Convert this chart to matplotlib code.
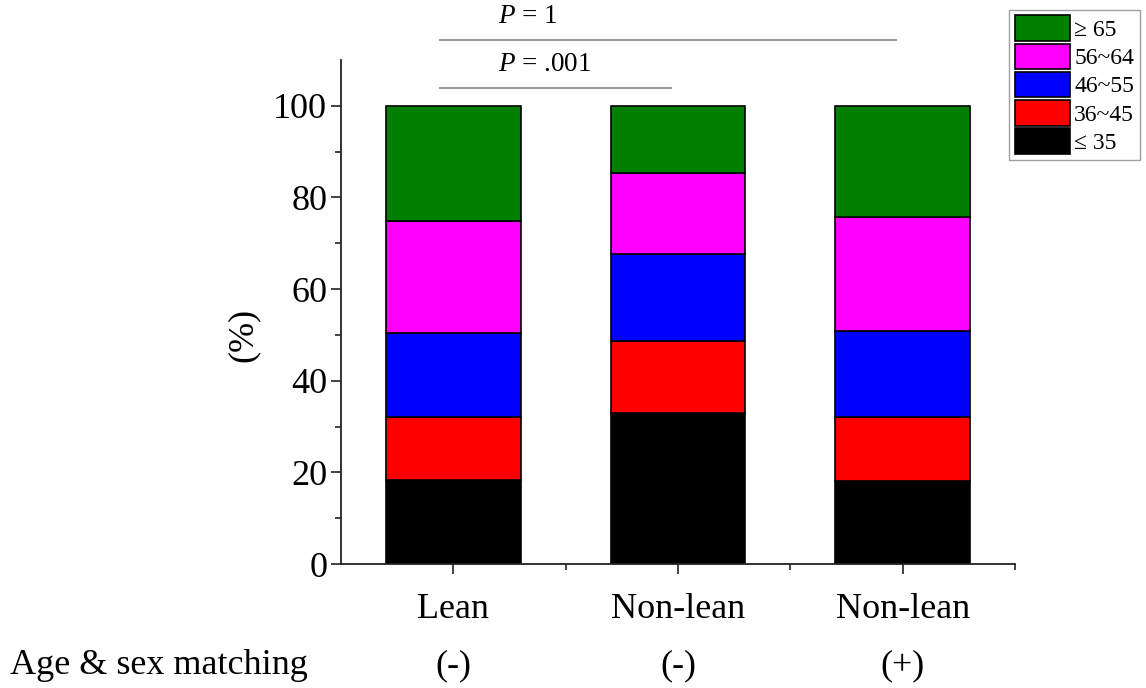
import matplotlib
matplotlib.use('Agg')
import matplotlib.pyplot as plt
import numpy as np

plt.rcParams['font.family'] = ['Liberation Serif', 'DejaVu Serif']
plt.rcParams['mathtext.fontset'] = 'custom'
plt.rcParams['mathtext.rm'] = 'Liberation Serif'
plt.rcParams['mathtext.it'] = 'Liberation Serif:italic'

# Data (percent of each group by age band)
groups = ['Lean', 'Non-lean', 'Non-lean']
matching = ['(-)', '(-)', '(+)']
age_bands = ['\u2264 35', '36~45', '46~55', '56~64', '\u2265 65']
le35 = [18.3, 32.9, 18.1]
a36_45 = [13.8, 15.8, 14.0]
a46_55 = [18.4, 19.0, 18.7]
a56_64 = [24.3, 17.6, 24.9]
ge65 = [25.2, 14.7, 24.3]
band_colors = ['#000000', '#ff0000', '#0000ff', '#ff00ff', '#008000']

# significance brackets: (left group, right group, label)
comparisons = [(0, 1, '$P$ = .001'), (0, 2, '$P$ = 1')]

fig = plt.figure(figsize=(11.46, 6.88), dpi=100)
ax = fig.add_axes([0.2976, 0.1802, 0.5881, 0.7326])

x = np.arange(1, len(groups) + 1)
series = [le35, a36_45, a46_55, a56_64, ge65]
bottom = np.zeros(len(groups))
handles = []
for vals, lab, col in zip(series, age_bands, band_colors):
    b = ax.bar(x, vals, width=0.6, bottom=bottom, color=col,
               edgecolor='black', linewidth=1.2, label=lab)
    handles.append(b)
    bottom += np.array(vals)

ax.set_xlim(0.5, 3.5)
ax.set_ylim(0, 110)
ax.set_yticks(np.arange(0, 101, 20))
ax.set_yticks(np.arange(10, 101, 20), minor=True)
ax.set_xticks(x)
ax.set_xticks([1.5, 2.5, 3.5], minor=True)
ax.set_xticklabels(groups)

for side in ['top', 'right']:
    ax.spines[side].set_visible(False)
for side in ['left', 'bottom']:
    ax.spines[side].set_linewidth(1.3)
    ax.spines[side].set_color('#222222')

ax.tick_params(axis='both', which='major', direction='out', length=7,
               width=1.2, labelsize=26, color='#222222')
ax.tick_params(axis='both', which='minor', direction='out', length=4.5,
               width=1.2, color='#222222')
ax.tick_params(axis='x', which='major', pad=14)
ax.tick_params(axis='y', which='major', pad=3)

ax.set_ylabel('(%)', fontsize=26)
ax.yaxis.set_label_coords(-0.12, 50 / 110)

# second row of x labels
trans = matplotlib.transforms.blended_transform_factory(ax.transData, fig.transFigure)
for xi, m in zip(x, matching):
    ax.text(xi, 0.02, m, transform=trans, ha='center', va='baseline', fontsize=26)
fig.text(0.009, 0.02, 'Age & sex matching', ha='left', va='baseline', fontsize=26)

# significance lines
line_y = {(0, 1): 103.9, (0, 2): 114.4}
for i, j, lab in comparisons:
    yv = line_y[(i, j)]
    x0 = x[i] - 0.06
    x1 = x[j] - 0.03
    ax.plot([x0, x1], [yv, yv], color='#9a9a9a', linewidth=1.5, clip_on=False)
    ax.text(x[i] + 0.2, yv + 2.3, lab, ha='left', va='bottom',
            fontsize=19.5, clip_on=False)

leg = fig.legend(handles[::-1], age_bands[::-1], loc='upper right',
                 bbox_to_anchor=(0.999, 0.993), fontsize=17, frameon=True,
                 fancybox=False, edgecolor='#888888', handlelength=2.3,
                 handleheight=1.3, labelspacing=0.1, borderpad=0.25,
                 handletextpad=0.2, borderaxespad=0.2)
leg.get_frame().set_linewidth(1.0)

plt.savefig('out.png', dpi=100, facecolor='white')
plt.close()
